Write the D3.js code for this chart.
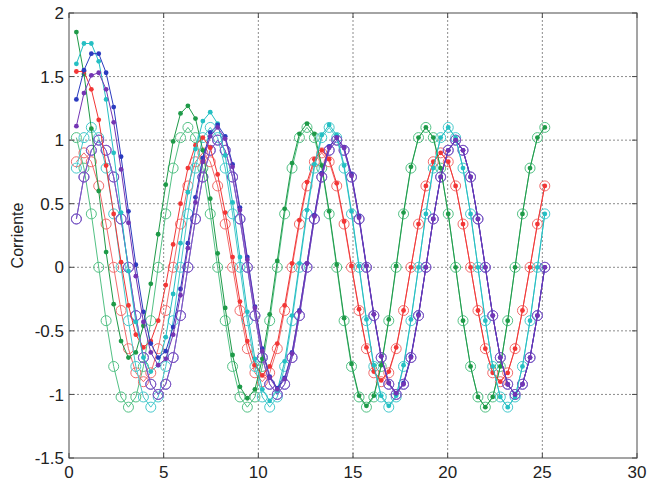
<!DOCTYPE html>
<html>
<head>
<meta charset="utf-8">
<script src="https://cdn.jsdelivr.net/npm/d3@7"></script>
<style>
    body { margin: 0; background: #fff; }
    svg { display: block; font-family: "Liberation Sans", Arial, sans-serif; }
</style>
</head>
<body>
<script>
// sample times (shared by every series)
const xs = [0.39, 0.79, 1.18, 1.57, 1.96, 2.36, 2.75, 3.14, 3.53, 3.93, 4.32, 4.71, 5.11, 5.50, 5.89, 6.28,
    6.68, 7.07, 7.46, 7.85, 8.25, 8.64, 9.03, 9.42, 9.82, 10.21, 10.60, 11.00, 11.39, 11.78, 12.17, 12.57,
    12.96, 13.35, 13.74, 14.14, 14.53, 14.92, 15.32, 15.71, 16.10, 16.49, 16.89, 17.28, 17.67, 18.06, 18.46, 18.85,
    19.24, 19.63, 20.03, 20.42, 20.81, 21.21, 21.60, 21.99, 22.38, 22.78, 23.17, 23.56, 23.95, 24.35, 24.74, 25.13];

// dotted series (transient current)
const greenDots = [1.85, 1.52, 1.09, 0.60, 0.12, -0.29, -0.58, -0.71, -0.67, -0.46, -0.13, 0.26, 0.65, 0.99, 1.21, 1.27,
    1.17, 0.92, 0.54, 0.11, -0.32, -0.69, -0.94, -1.03, -0.96, -0.72, -0.37, 0.05, 0.46, 0.82, 1.05, 1.13,
    1.05, 0.80, 0.44, 0.02, -0.40, -0.76, -1.01, -1.09, -1.01, -0.77, -0.41, 0.01, 0.43, 0.79, 1.02, 1.10,
    1.02, 0.78, 0.42, 0, -0.42, -0.78, -1.02, -1.10, -1.02, -0.78, -0.42, 0, 0.42, 0.78, 1.02, 1.10];
const redDots = [1.54, 1.54, 1.40, 1.16, 0.80, 0.42, 0.04, -0.30, -0.53, -0.63, -0.58, -0.42, -0.14, 0.18, 0.50, 0.78,
    0.96, 1.02, 0.94, 0.73, 0.43, 0.08, -0.27, -0.58, -0.77, -0.85, -0.78, -0.60, -0.30, 0.03, 0.37, 0.67,
    0.85, 0.92, 0.85, 0.66, 0.36, 0.01, -0.33, -0.63, -0.82, -0.89, -0.82, -0.63, -0.34, 0, 0.34, 0.64,
    0.83, 0.90, 0.83, 0.64, 0.34, 0, -0.34, -0.64, -0.83, -0.90, -0.83, -0.64, -0.34, 0, 0.34, 0.64];
const cyanDots = [1.60, 1.76, 1.76, 1.62, 1.32, 0.90, 0.43, -0.03, -0.43, -0.71, -0.82, -0.77, -0.55, -0.21, 0.19, 0.59,
    0.93, 1.15, 1.22, 1.13, 0.88, 0.51, 0.08, -0.35, -0.72, -0.96, -1.05, -0.97, -0.74, -0.38, 0.03, 0.45,
    0.81, 1.04, 1.12, 1.04, 0.80, 0.44, 0.01, -0.41, -0.77, -1.01, -1.09, -1.01, -0.77, -0.41, 0, 0.42,
    0.78, 1.02, 1.10, 1.02, 0.78, 0.42, 0, -0.42, -0.78, -1.02, -1.10, -1.02, -0.78, -0.42, 0, 0.42];
const blueDots = [1.32, 1.55, 1.68, 1.68, 1.53, 1.26, 0.87, 0.44, 0.02, -0.35, -0.60, -0.71, -0.66, -0.47, -0.17, 0.19,
    0.55, 0.86, 1.06, 1.12, 1.03, 0.81, 0.47, 0.08, -0.31, -0.64, -0.86, -0.95, -0.87, -0.67, -0.34, 0.03,
    0.41, 0.74, 0.95, 1.02, 0.94, 0.73, 0.40, 0.01, -0.37, -0.70, -0.91, -0.99, -0.91, -0.70, -0.37, 0,
    0.38, 0.71, 0.92, 1.00, 0.92, 0.71, 0.38, 0, -0.38, -0.71, -0.92, -1.00, -0.92, -0.71, -0.38, 0];
const purpleDots = [1.11, 1.37, 1.51, 1.53, 1.40, 1.14, 0.77, 0.35, -0.07, -0.43, -0.67, -0.77, -0.72, -0.53, -0.22, 0.15,
    0.51, 0.83, 1.03, 1.10, 1.01, 0.79, 0.45, 0.06, -0.32, -0.66, -0.87, -0.96, -0.88, -0.68, -0.35, 0.03,
    0.40, 0.73, 0.94, 1.02, 0.94, 0.72, 0.39, 0.01, -0.37, -0.70, -0.91, -0.99, -0.92, -0.71, -0.38, 0,
    0.38, 0.71, 0.92, 1.00, 0.92, 0.71, 0.38, 0, -0.38, -0.71, -0.92, -1.00, -0.92, -0.71, -0.38, 0];

// circle series (steady state)
const greenRings = [1.02, 0.78, 0.42, 0, -0.42, -0.78, -1.02, -1.10, -1.02, -0.78, -0.42, 0, 0.42, 0.78, 1.02, 1.10,
    1.02, 0.78, 0.42, 0, -0.42, -0.78, -1.02, -1.10, -1.02, -0.78, -0.42, 0, 0.42, 0.78, 1.02, 1.10,
    1.02, 0.78, 0.42, 0, -0.42, -0.78, -1.02, -1.10, -1.02, -0.78, -0.42, 0, 0.42, 0.78, 1.02, 1.10,
    1.02, 0.78, 0.42, 0, -0.42, -0.78, -1.02, -1.10, -1.02, -0.78, -0.42, 0, 0.42, 0.78, 1.02, 1.10];
const redRings = [0.83, 0.90, 0.83, 0.64, 0.34, 0, -0.34, -0.64, -0.83, -0.90, -0.83, -0.64, -0.34, 0, 0.34, 0.64,
    0.83, 0.90, 0.83, 0.64, 0.34, 0, -0.34, -0.64, -0.83, -0.90, -0.83, -0.64, -0.34, 0, 0.34, 0.64,
    0.83, 0.90, 0.83, 0.64, 0.34, 0, -0.34, -0.64, -0.83, -0.90, -0.83, -0.64, -0.34, 0, 0.34, 0.64,
    0.83, 0.90, 0.83, 0.64, 0.34, 0, -0.34, -0.64, -0.83, -0.90, -0.83, -0.64, -0.34, 0, 0.34, 0.64];
const cyanRings = [0.78, 1.02, 1.10, 1.02, 0.78, 0.42, 0, -0.42, -0.78, -1.02, -1.10, -1.02, -0.78, -0.42, 0, 0.42,
    0.78, 1.02, 1.10, 1.02, 0.78, 0.42, 0, -0.42, -0.78, -1.02, -1.10, -1.02, -0.78, -0.42, 0, 0.42,
    0.78, 1.02, 1.10, 1.02, 0.78, 0.42, 0, -0.42, -0.78, -1.02, -1.10, -1.02, -0.78, -0.42, 0, 0.42,
    0.78, 1.02, 1.10, 1.02, 0.78, 0.42, 0, -0.42, -0.78, -1.02, -1.10, -1.02, -0.78, -0.42, 0, 0.42];
const blueRings = [0.38, 0.71, 0.92, 1.00, 0.92, 0.71, 0.38, 0, -0.38, -0.71, -0.92, -1.00, -0.92, -0.71, -0.38, 0,
    0.38, 0.71, 0.92, 1.00, 0.92, 0.71, 0.38, 0, -0.38, -0.71, -0.92, -1.00, -0.92, -0.71, -0.38, 0,
    0.38, 0.71, 0.92, 1.00, 0.92, 0.71, 0.38, 0, -0.38, -0.71, -0.92, -1.00, -0.92, -0.71, -0.38, 0,
    0.38, 0.71, 0.92, 1.00, 0.92, 0.71, 0.38, 0, -0.38, -0.71, -0.92, -1.00, -0.92, -0.71, -0.38, 0];
const purpleRings = [0.38, 0.71, 0.92, 1.00, 0.92, 0.71, 0.38, 0, -0.38, -0.71, -0.92, -1.00, -0.92, -0.71, -0.38, 0,
    0.38, 0.71, 0.92, 1.00, 0.92, 0.71, 0.38, 0, -0.38, -0.71, -0.92, -1.00, -0.92, -0.71, -0.38, 0,
    0.38, 0.71, 0.92, 1.00, 0.92, 0.71, 0.38, 0, -0.38, -0.71, -0.92, -1.00, -0.92, -0.71, -0.38, 0,
    0.38, 0.71, 0.92, 1.00, 0.92, 0.71, 0.38, 0, -0.38, -0.71, -0.92, -1.00, -0.92, -0.71, -0.38, 0];

const xTicks = [0, 5, 10, 15, 20, 25, 30];
const yTicks = [-1.5, -1, -0.5, 0, 0.5, 1, 1.5, 2];
const yLabel = "Corriente";

window.onload = function () {
    drawChart();
}

function drawChart() {
    let vis = {};
    vis.width = 657;
    vis.height = 486;
    vis.margin = {left: 69, right: 20, top: 13, bottom: 28};

    vis.x = d3.scaleLinear()
        .domain([0, 30])
        .range([vis.margin.left, vis.width - vis.margin.right]);
    vis.y = d3.scaleLinear()
        .domain([-1.5, 2])
        .range([vis.height - vis.margin.bottom, vis.margin.top]);

    vis.svg = d3.select("body")
        .append("svg")
        .attr("width", vis.width)
        .attr("height", vis.height);

    const x0 = vis.x.range()[0], x1 = vis.x.range()[1];
    const y0 = vis.y.range()[0], y1 = vis.y.range()[1];

    //Dotted grid
    vis.svg.append("g")
        .selectAll("line")
        .data(xTicks.slice(1, -1))
        .enter().append("line")
        .attr("x1", d => vis.x(d)).attr("x2", d => vis.x(d))
        .attr("y1", y0).attr("y2", y1)
        .attr("stroke", "#8c8c8c").attr("stroke-dasharray", "2,2");
    vis.svg.append("g")
        .selectAll("line")
        .data(yTicks.slice(1, -1))
        .enter().append("line")
        .attr("y1", d => vis.y(d)).attr("y2", d => vis.y(d))
        .attr("x1", x0).attr("x2", x1)
        .attr("stroke", "#8c8c8c").attr("stroke-dasharray", "2,2");

    //Series: rings first, then the dotted curves on top
    const series = [
        {values: greenRings, color: "#52c184", ring: true},
        {values: redRings, color: "#f26b6b", ring: true},
        {values: cyanRings, color: "#45c9cc", ring: true},
        {values: blueRings, color: "#5662cf", ring: true},
        {values: purpleRings, color: "#8755c2", ring: true},
        {values: greenDots, color: "#1e9a48", ring: false},
        {values: redDots, color: "#f23636", ring: false},
        {values: cyanDots, color: "#25bfc3", ring: false},
        {values: blueDots, color: "#2b3bbf", ring: false},
        {values: purpleDots, color: "#7435b4", ring: false}
    ];

    const line = d3.line()
        .x((d, i) => vis.x(xs[i]))
        .y(d => vis.y(d));

    series.forEach(function (s) {
        let g = vis.svg.append("g");
        g.append("path")
            .attr("d", line(s.values))
            .attr("fill", "none")
            .attr("stroke", s.color)
            .attr("stroke-width", 1);

        g.selectAll("circle")
            .data(s.values)
            .enter().append("circle")
            .attr("cx", (d, i) => vis.x(xs[i]))
            .attr("cy", d => vis.y(d))
            .attr("r", s.ring ? 5 : 2.4)
            .attr("fill", s.ring ? "none" : s.color)
            .attr("stroke", s.ring ? s.color : "none")
            .attr("stroke-width", 1);
    });

    //Frame
    vis.svg.append("rect")
        .attr("x", x0).attr("y", y1)
        .attr("width", x1 - x0).attr("height", y0 - y1)
        .attr("fill", "none")
        .attr("stroke", "#4a4a4a");

    //Inward ticks on all four sides
    const tickLen = 5;
    const ticks = vis.svg.append("g").attr("stroke", "#4a4a4a");
    xTicks.forEach(function (t) {
        ticks.append("line").attr("x1", vis.x(t)).attr("x2", vis.x(t)).attr("y1", y0).attr("y2", y0 - tickLen);
        ticks.append("line").attr("x1", vis.x(t)).attr("x2", vis.x(t)).attr("y1", y1).attr("y2", y1 + tickLen);
    });
    yTicks.forEach(function (t) {
        ticks.append("line").attr("y1", vis.y(t)).attr("y2", vis.y(t)).attr("x1", x0).attr("x2", x0 + tickLen);
        ticks.append("line").attr("y1", vis.y(t)).attr("y2", vis.y(t)).attr("x1", x1).attr("x2", x1 - tickLen);
    });

    //Tick labels
    vis.svg.append("g")
        .selectAll("text")
        .data(xTicks)
        .enter().append("text")
        .attr("x", d => vis.x(d))
        .attr("y", y0 + 20)
        .attr("text-anchor", "middle")
        .attr("font-size", 17)
        .attr("fill", "#222")
        .text(d => String(d));
    vis.svg.append("g")
        .selectAll("text")
        .data(yTicks)
        .enter().append("text")
        .attr("x", x0 - 5)
        .attr("y", d => vis.y(d))
        .attr("dy", "0.36em")
        .attr("text-anchor", "end")
        .attr("font-size", 17)
        .attr("fill", "#222")
        .text(d => String(d));

    //Axis title
    vis.svg.append("text")
        .attr("transform", "translate(23," + ((y0 + y1) / 2) + ") rotate(-90)")
        .attr("text-anchor", "middle")
        .attr("font-size", 16)
        .attr("fill", "#222")
        .text(yLabel);
}
</script>
</body>
</html>
